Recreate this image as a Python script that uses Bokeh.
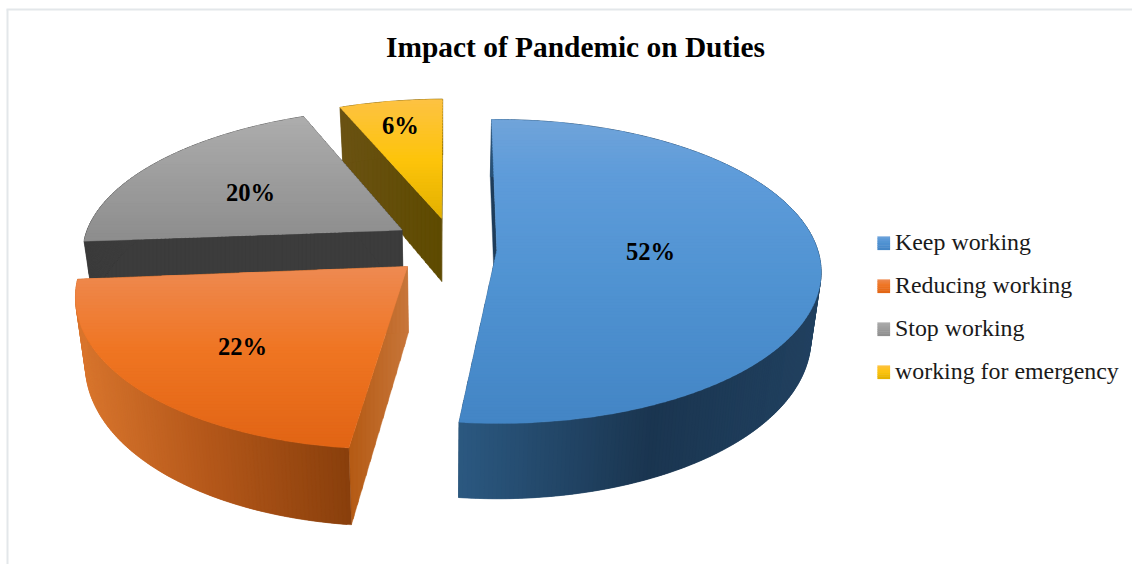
import numpy as np
from bokeh.core.properties import value
from bokeh.embed import file_html
from bokeh.models import ColumnDataSource
from bokeh.plotting import figure
from bokeh.resources import INLINE

# Chart content
title = "Impact of Pandemic on Duties"
categories = ["Keep working", "Reducing working", "Stop working", "working for emergency"]
shares = [52, 22, 20, 6]

# Projection of the tilted disc onto the page
WIDTH, HEIGHT = 1132, 564
CX, CY = 444.0, 250.0
RX, RY = 321.0, 149.0
PERSP = 0.138
DEPTH = 65.0
BASE_SHRINK = 0.973
ROTATION = -1.0

# Displacement of each slice on the disc plane, its front-to-back stretch and skew, and shading stops
offsets = [(0.163, 0.0), (-0.11, -0.106), (-0.137, 0.14), (-0.013, 0.2215)]
stretch = [1.0, 1.02, 0.96, 0.96]
skew = [6.0, 11.5, 5.5, 5.5]
face_stops = [
    [(119, "#70a4da"), (170, "#5f9cda"), (280, "#5093d2"), (423, "#4385c5")],
    [(266, "#ee8a52"), (350, "#ef7522"), (448, "#e16414")],
    [(115, "#adadad"), (240, "#8d8d8d")],
    [(99, "#fdc243"), (160, "#fdc40a"), (218, "#e3b000")],
]
rim_stops = [
    [(458, "#2b5880"), (650, "#1a3550"), (822, "#214160")],
    [(76, "#d8752d"), (200, "#b5581a"), (352, "#873e0b")],
    [(85, "#3c3c3c"), (402, "#3c3c3c")],
    [(343, "#6a5212"), (442, "#5e4a00")],
]
cut_colors = [
    [(490, "#1e3c5a"), (497, "#1e3c5a")],
    [(349, "#b45a14"), (408, "#c8763a")],
    [(85, "#3c3c3c"), (402, "#3c3c3c")],
    [(343, "#6a5212"), (442, "#5e4a00")],
]
label_xy = [(650, 251), (242, 346), (250, 192), (400, 125)]
legend_y = [242.5, 285.5, 328.5, 371.5]


def hex_rgb(c):
    return np.array([int(c[i:i + 2], 16) for i in (1, 3, 5)], float)


def ramp(stops, t):
    pos = [s[0] for s in stops]
    rgb = np.array([hex_rgb(s[1]) for s in stops])
    out = [int(round(np.interp(t, pos, rgb[:, i]))) for i in range(3)]
    return "#%02x%02x%02x" % tuple(out)


def project(px, py, sk):
    w = 1 + PERSP * py
    return RX * px / w + sk * py, -RY * py / w, w


def top(px, py, sk):
    sx, sy, _ = project(px, py, sk)
    return CX + sx, CY + sy


def base(px, py, sk):
    sx, sy, w = project(px, py, sk)
    return CX + BASE_SHRINK * sx, CY + sy + DEPTH / w


def clip_band(xs, ys, y0, y1):
    # Clip a polygon to a band of the second coordinate, one half-plane at a time
    def cut(pts, keep, limit):
        res = []
        for i in range(len(pts)):
            a, b = pts[i], pts[(i + 1) % len(pts)]
            ka, kb = keep(a[1]), keep(b[1])
            if ka:
                res.append(a)
            if ka != kb:
                f = (limit - a[1]) / (b[1] - a[1])
                res.append((a[0] + f * (b[0] - a[0]), limit))
        return res
    pts = list(zip(xs, ys))
    pts = cut(pts, lambda v: v >= y0, y0)
    if pts:
        pts = cut(pts, lambda v: v <= y1, y1)
    return pts


def horizontal_ramp(store, pts, stops):
    # Split a convex polygon into vertical strips so a colour ramp runs across it
    xs = [q[0] for q in pts]
    ys = [q[1] for q in pts]
    lo, hi = min(xs), max(xs)
    n = max(1, int((hi - lo) / 4))
    edges = np.linspace(lo, hi, n + 1)
    for a, b in zip(edges[:-1], edges[1:]):
        piece = clip_band(ys, xs, a, b + 1.0)
        if len(piece) >= 3:
            store["xs"].append([q[1] for q in piece])
            store["ys"].append([q[0] for q in piece])
            store["c"].append(ramp(stops, (a + b) / 2))


p = figure(width=WIDTH, height=HEIGHT, x_range=(0, WIDTH), y_range=(HEIGHT, 0),
           output_backend="svg", toolbar_location=None, min_border=0,
           outline_line_color=None, background_fill_color="white")
p.axis.visible = False
p.grid.visible = False

# Thin frame along the top and left of the page
p.line([7, 7], [564, 9], line_color="#e3e7ea", line_width=2)
p.line([6, 1132], [9, 9], line_color="#e3e7ea", line_width=2)

# Slice boundaries follow cumulatively from the shares
total = float(sum(shares))
edges = ROTATION + np.concatenate([[0], np.cumsum(shares)]) * 360.0 / total

# Painted back to front so nearer slices cover farther walls
for idx in [3, 2, 0, 1]:
    ox, oy = offsets[idx]
    sk = skew[idx]
    a0, a1 = np.radians(edges[idx]), np.radians(edges[idx + 1])
    th = np.linspace(a0, a1, max(24, int((edges[idx + 1] - edges[idx]) * 1.5)))
    pxs, pys = ox + np.sin(th), oy + stretch[idx] * np.cos(th)

    parts = {"xs": [], "ys": [], "c": []}

    # Cut walls running from the rim to the slice's apex
    for px_end, py_end in ((pxs[0], pys[0]), (pxs[-1], pys[-1])):
        quad = [top(ox, oy, sk), top(px_end, py_end, sk), base(px_end, py_end, sk), base(ox, oy, sk)]
        horizontal_ramp(parts, quad, cut_colors[idx])

    # Outer rim: each quad overlaps the next so no seams show between them
    rim_top = [top(a, b, sk) for a, b in zip(pxs, pys)]
    rim_base = [base(a, b, sk) for a, b in zip(pxs, pys)]
    for i in range(len(th) - 1):
        j = min(i + 2, len(th) - 1)
        quad = [rim_top[i], rim_top[j], rim_base[j], rim_base[i]]
        parts["xs"].append([q[0] for q in quad])
        parts["ys"].append([q[1] for q in quad])
        parts["c"].append(ramp(rim_stops[idx], (rim_top[i][0] + rim_top[j][0]) / 2))

    # Top face, in horizontal bands
    ax, ay = top(ox, oy, sk)
    fx = [ax] + [q[0] for q in rim_top]
    fy = [ay] + [q[1] for q in rim_top]
    bands = np.arange(np.floor(min(fy)), np.ceil(max(fy)) + 3, 3.0)
    for y0, y1 in zip(bands[:-1], bands[1:]):
        piece = clip_band(fx, fy, y0, y1 + 0.5)
        if len(piece) >= 3:
            parts["xs"].append([q[0] for q in piece])
            parts["ys"].append([q[1] for q in piece])
            parts["c"].append(ramp(face_stops[idx], (y0 + y1) / 2))

    src = ColumnDataSource(parts)
    p.patches("xs", "ys", source=src, fill_color="c", line_color="c", line_width=0.4)

# Value labels
p.text([q[0] for q in label_xy], [q[1] for q in label_xy], text=[f"{v}%" for v in shares],
       text_font=value("Liberation Serif"), text_font_style="bold", text_font_size="24.6px",
       text_align="center", text_baseline="middle", text_color="#000000")

# Title
p.text([575], [46.5], text=[title], text_font=value("Liberation Serif"), text_font_style="bold",
       text_font_size="29.4px", text_align="center", text_baseline="middle", text_color="#000000")

# Legend swatches and entries
sw = {"xs": [], "ys": [], "c": []}
for idx, ly in enumerate(legend_y):
    stops = face_stops[idx]
    lo, hi = stops[0][0], stops[-1][0]
    for k in range(6):
        sw["xs"].append([877, 889.5, 889.5, 877])
        sw["ys"].append([ly - 6.5 + 2.2 * k, ly - 6.5 + 2.2 * k, ly - 4.0 + 2.2 * k, ly - 4.0 + 2.2 * k])
        sw["c"].append(ramp(stops, lo + (hi - lo) * (k + 0.5) / 6))
p.patches("xs", "ys", source=ColumnDataSource(sw), fill_color="c", line_color="c", line_width=0.2)
p.text([894.5] * 4, [y - 1 for y in legend_y], text=categories, text_font=value("Liberation Serif"),
       text_font_size="23.9px", text_align="left", text_baseline="middle", text_color="#1a1a1a")

open("out.html", "w").write(file_html(p, INLINE))
